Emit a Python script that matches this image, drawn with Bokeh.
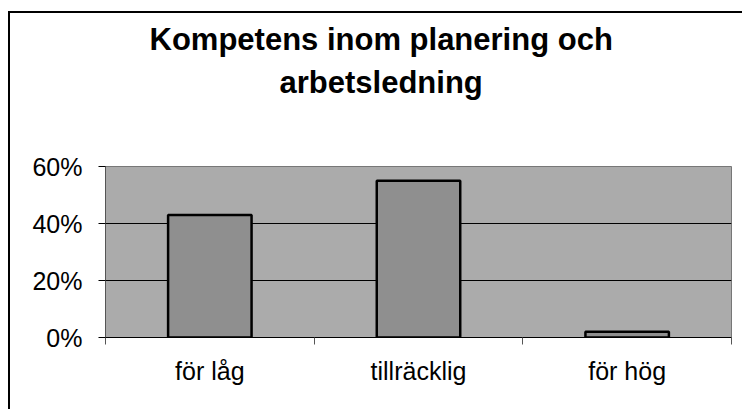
from bokeh.plotting import figure
from bokeh.models import ColumnDataSource, FixedTicker, Range1d, Title
from bokeh.embed import file_html
from bokeh.resources import INLINE

categories = ["för låg", "tillräcklig", "för hög"]
values = [43, 55, 2]          # percent
y_ticks = [0, 20, 40, 60]
y_tick_labels = ["0%", "20%", "40%", "60%"]
title_lines = ["Kompetens inom planering och", "arbetsledning"]

xpos = [i + 0.5 for i in range(len(categories))]
src = ColumnDataSource(dict(x=xpos, top=values, cat=categories))

p = figure(width=734, height=398, output_backend="svg", toolbar_location=None,
           title=None,
           x_range=Range1d(0, len(categories)), y_range=Range1d(0, 60),
           min_border_left=95, min_border_right=13, min_border_top=100, min_border_bottom=74)
p.styles = {"border-left": "2px solid black", "border-top": "2px solid black",
            "margin-top": "11px", "margin-left": "8px"}

def title_line(text, standoff, offset):
    return Title(text=text, align="left", text_font="Liberation Sans",
                 text_font_style="bold", text_font_size="31px", text_color="black",
                 standoff=standoff, offset=offset)

# titles: later added sits farther from the plot
p.add_layout(Title(text=" ", text_font_size="1px", standoff=64), "above")   # spacer
p.add_layout(title_line(title_lines[1], 0, 174), "above")
p.add_layout(title_line(title_lines[0], 12, 44), "above")

p.background_fill_color = "#ababab"
p.border_fill_color = "white"
p.outline_line_color = "#777777"

p.vbar(x="x", top="top", width=0.4, source=src, fill_color="#8f8f8f",
       line_color="black", line_width=2.5)

p.xgrid.visible = False
p.ygrid.ticker = FixedTicker(ticks=y_ticks)
p.ygrid.grid_line_color = "black"
p.ygrid.grid_line_width = 1

p.yaxis.ticker = FixedTicker(ticks=y_ticks)
p.yaxis.major_label_overrides = {t: l for t, l in zip(y_ticks, y_tick_labels)}
p.yaxis.major_label_text_font = "Liberation Sans"
p.yaxis.major_label_text_font_size = "25px"
p.yaxis.major_label_text_color = "black"
p.yaxis.major_tick_in = 0
p.yaxis.major_tick_out = 7
p.yaxis.minor_tick_line_color = None
p.yaxis.major_label_standoff = 16
p.yaxis.axis_line_color = "#555555"

p.xaxis.ticker = FixedTicker(ticks=xpos, minor_ticks=list(range(len(categories) + 1)))
p.xaxis.major_label_overrides = {x: c for x, c in zip(xpos, categories)}
p.xaxis.major_label_text_font = "Liberation Sans"
p.xaxis.major_label_text_font_size = "25px"
p.xaxis.major_label_text_color = "black"
p.xaxis.major_tick_in = 0
p.xaxis.major_tick_out = 0
p.xaxis.major_tick_line_color = None
p.xaxis.minor_tick_in = 0
p.xaxis.minor_tick_out = 7
p.xaxis.minor_tick_line_color = "#555555"
p.xaxis.major_label_standoff = 12
p.xaxis.axis_line_color = "black"

open("out.html", "w").write(file_html(p, INLINE))
